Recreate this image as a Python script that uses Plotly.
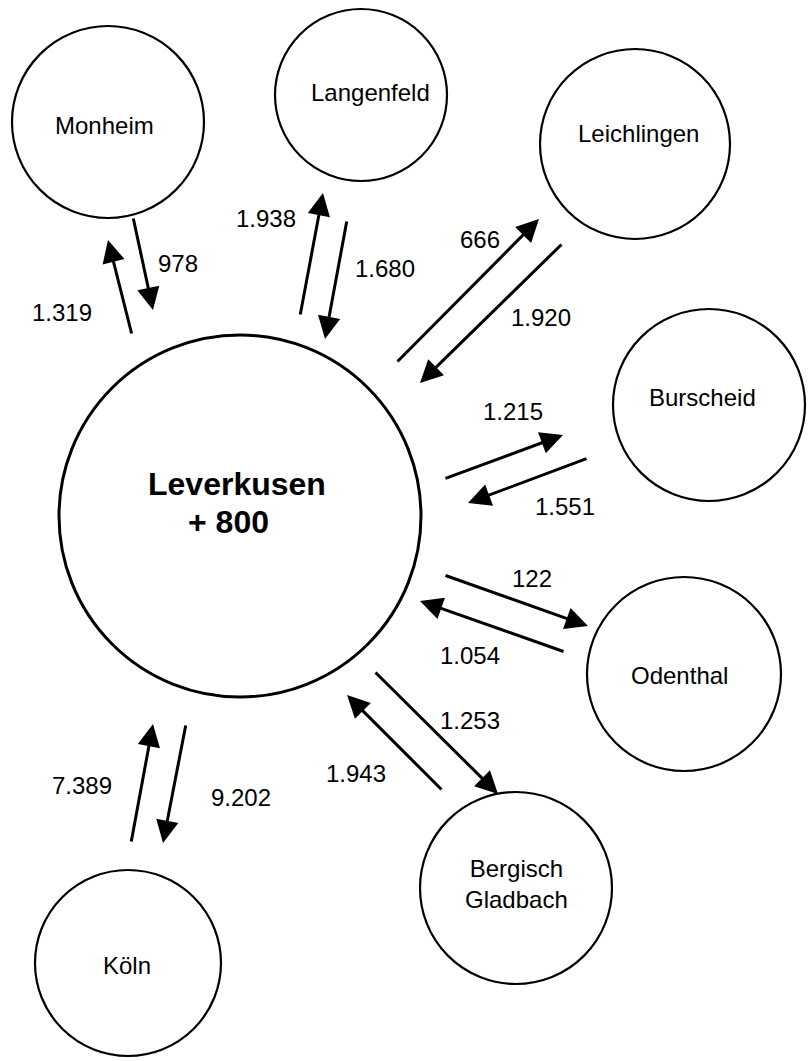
import plotly.graph_objects as go

# ---------------- data ----------------
places = ["Monheim", "Langenfeld", "Leichlingen", "Burscheid", "Odenthal",
          "Bergisch<br>Gladbach", "Köln"]
# commuters from Leverkusen to the place
outbound = [1319, 1938, 666, 1215, 122, 1253, 9202]
# commuters from the place to Leverkusen
inbound = [978, 1680, 1920, 1551, 1054, 1943, 7389]
center_name = "Leverkusen"
balance = sum(inbound) - sum(outbound)  # +800


def fmt(v):
    return f"{v:,}".replace(",", ".")


# ---------------- layout (pixel geometry) ----------------
W, H = 811, 1061
hub = dict(cx=240, cy=516, r=181)
node_geo = [  # cx, cy, r
    (108, 122, 96), (361, 95, 86), (635, 144, 95), (709, 405, 96),
    (684, 674, 97), (516, 888, 96), (128, 963, 93)]
node_text_pos = [(104, 125), (370, 92), (638, 133), (702, 397),
                 (679, 675), (516, 884), (127, 965)]
# arrows: (tail_x, tail_y, tip_x, tip_y)
out_arrows = [(132, 335, 108, 240), (300, 316, 323, 193), (396, 363, 539, 219),
              (444, 479, 563, 435), (444, 575, 588, 626), (374, 671, 498, 794),
              (186, 724, 163, 843)]
in_arrows = [(133, 217, 153, 310), (347, 220, 325, 339), (563, 243, 420, 383),
             (588, 458, 468, 503), (565, 652, 420, 601), (443, 791, 347, 695),
             (131, 843, 153, 724)]
out_label_pos = [(62, 312), (266, 218), (480, 239), (513, 411), (532, 578),
                 (470, 720), (241, 797)]
in_label_pos = [(178, 263), (385, 268), (541, 317), (565, 506), (470, 655),
                (356, 773), (82, 785)]

FONT = "Arial, Liberation Sans, Helvetica, sans-serif"
LABEL_SIZE = 24
DY = 0  # vertical text offset correction

fig = go.Figure()
fig.add_trace(go.Scatter(x=[0, W], y=[0, H], mode="markers",
                         marker=dict(opacity=0), hoverinfo="skip",
                         showlegend=False))

shapes = []
shapes.append(dict(type="circle", xref="x", yref="y",
                   x0=hub["cx"] - hub["r"], x1=hub["cx"] + hub["r"],
                   y0=hub["cy"] - hub["r"], y1=hub["cy"] + hub["r"],
                   line=dict(color="black", width=3), fillcolor="white",
                   layer="below"))
for (cx, cy, r) in node_geo:
    shapes.append(dict(type="circle", xref="x", yref="y",
                       x0=cx - r, x1=cx + r, y0=cy - r, y1=cy + r,
                       line=dict(color="black", width=2.2), fillcolor="white",
                       layer="below"))

ann = []
# hub text
ann.append(dict(x=237, y=484 + DY, xref="x", yref="y", text=f"<b>{center_name}</b>",
                showarrow=False, font=dict(family=FONT, size=32, color="black"),
                xanchor="center", yanchor="middle"))
ann.append(dict(x=228, y=522 + DY, xref="x", yref="y", text=f"<b>+ {balance}</b>",
                showarrow=False, font=dict(family=FONT, size=32, color="black"),
                xanchor="center", yanchor="middle"))

for name, (tx, ty) in zip(places, node_text_pos):
    ann.append(dict(x=tx, y=ty + DY, xref="x", yref="y", text=name,
                    showarrow=False, font=dict(family=FONT, size=LABEL_SIZE, color="black"),
                    xanchor="center", yanchor="middle", align="center"))

for arrows, vals, lpos in ((out_arrows, outbound, out_label_pos),
                           (in_arrows, inbound, in_label_pos)):
    for (ax, ay, x, y), v, (lx, ly) in zip(arrows, vals, lpos):
        ann.append(dict(x=x, y=y, ax=ax, ay=ay, xref="x", yref="y",
                        axref="x", ayref="y", text="", showarrow=True,
                        arrowhead=2, arrowsize=1.5, arrowwidth=3,
                        arrowcolor="black", standoff=0, startstandoff=0))
        ann.append(dict(x=lx, y=ly + DY, xref="x", yref="y", text=fmt(v),
                        showarrow=False,
                        font=dict(family=FONT, size=LABEL_SIZE, color="black"),
                        xanchor="center", yanchor="middle"))

fig.update_layout(
    width=W, height=H, margin=dict(l=0, r=0, t=0, b=0),
    paper_bgcolor="white", plot_bgcolor="white",
    xaxis=dict(range=[0, W], visible=False, fixedrange=True),
    yaxis=dict(range=[H, 0], visible=False, fixedrange=True),
    shapes=shapes, annotations=ann, showlegend=False,
)
fig.write_html(
    "out.html",
    config={"displayModeBar": False},
    post_script="document.body.style.margin='0';document.body.style.overflow='hidden';",
)
